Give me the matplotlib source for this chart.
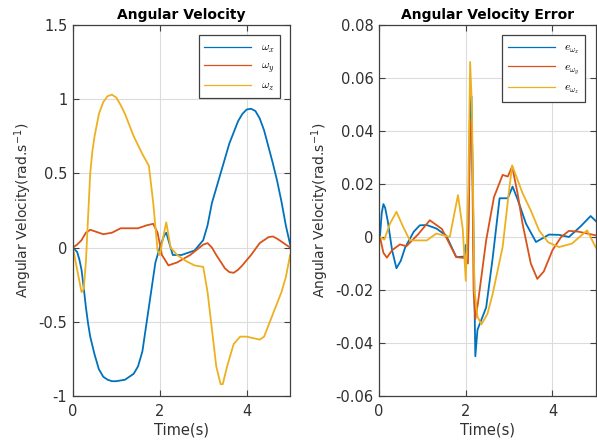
import numpy as np
import matplotlib.pyplot as plt

plt.rcParams['font.family'] = ['DejaVu Sans']
plt.rcParams['mathtext.fontset'] = 'cm'

c_x = '#0072BD'
c_y = '#D95319'
c_z = '#EDB120'

# angular velocity (left)
t_wx = [0, 0.1, 0.15, 0.2, 0.25, 0.3, 0.35, 0.4, 0.5, 0.6, 0.7, 0.8, 0.9, 1.0, 1.2, 1.4,
        1.5, 1.6, 1.7, 1.8, 1.9, 2.0, 2.1, 2.15, 2.2, 2.3, 2.5, 2.8, 3.0, 3.1, 3.2, 3.4,
        3.6, 3.8, 3.9, 4.0, 4.1, 4.2, 4.3, 4.4, 4.5, 4.6, 4.7, 4.8, 4.9, 5.0]
wx = [0, -0.03, -0.08, -0.15, -0.27, -0.4, -0.51, -0.6, -0.72, -0.82, -0.87, -0.89, -0.9,
      -0.9, -0.89, -0.85, -0.8, -0.7, -0.5, -0.3, -0.1, 0.0, 0.08, 0.1, 0.05, -0.05,
      -0.05, -0.02, 0.05, 0.15, 0.3, 0.5, 0.7, 0.85, 0.9, 0.93, 0.935, 0.92, 0.87, 0.79,
      0.68, 0.57, 0.45, 0.31, 0.15, 0.02]

t_wy = [0, 0.1, 0.2, 0.3, 0.4, 0.5, 0.7, 0.9, 1.1, 1.3, 1.5, 1.7, 1.85, 1.95, 2.05, 2.2,
        2.4, 2.7, 3.0, 3.1, 3.2, 3.3, 3.5, 3.6, 3.7, 3.8, 3.9, 4.1, 4.3, 4.5, 4.6, 4.7,
        4.9, 5.0]
wy = [0, 0.02, 0.05, 0.1, 0.12, 0.11, 0.09, 0.1, 0.13, 0.13, 0.13, 0.15, 0.16, 0.1,
      -0.05, -0.12, -0.1, -0.05, 0.02, 0.03, 0.0, -0.05, -0.14, -0.165, -0.17, -0.15,
      -0.12, -0.05, 0.03, 0.07, 0.075, 0.06, 0.02, 0.0]

t_wz = [0, 0.1, 0.2, 0.25, 0.3, 0.35, 0.4, 0.45, 0.5, 0.6, 0.7, 0.8, 0.9, 1.0, 1.1, 1.2,
        1.4, 1.6, 1.75, 1.85, 1.95, 2.0, 2.1, 2.15, 2.25, 2.4, 2.6, 2.8, 3.0, 3.1, 3.2,
        3.3, 3.4, 3.45, 3.55, 3.7, 3.85, 4.0, 4.15, 4.3, 4.4, 4.6, 4.8, 4.9, 5.0]
wz = [0, -0.15, -0.3, -0.28, -0.1, 0.2, 0.5, 0.65, 0.75, 0.9, 0.98, 1.02, 1.03, 1.01,
      0.96, 0.9, 0.75, 0.63, 0.55, 0.3, -0.02, -0.05, 0.1, 0.17, 0.0, -0.05, -0.09,
      -0.12, -0.13, -0.3, -0.55, -0.8, -0.92, -0.92, -0.8, -0.65, -0.6, -0.6, -0.61,
      -0.62, -0.6, -0.45, -0.3, -0.2, -0.05]

# angular velocity error (right)
t_ex = [0, 0.02, 0.06, 0.1, 0.14, 0.2, 0.3, 0.4, 0.5, 0.6, 0.8, 0.94, 1.1, 1.32, 1.55,
        1.78, 1.97, 2.0, 2.05, 2.1, 2.13, 2.18, 2.22, 2.27, 2.47, 2.62, 2.78, 2.97, 3.08,
        3.2, 3.39, 3.62, 3.92, 4.15, 4.38, 4.65, 4.88, 5.0]
ex = [0, 0.0, 0.009, 0.0124, 0.011, 0.006, -0.005, -0.0118, -0.009, -0.004, 0.002,
      0.0044, 0.0045, 0.0032, 0.0005, -0.0076, -0.0074, -0.003, -0.005, 0.05, 0.053,
      0.0, -0.045, -0.035, -0.0266, -0.008, 0.0146, 0.0146, 0.019, 0.014, 0.005,
      -0.0019, 0.0009, 0.0008, 0.0, 0.004, 0.0079, 0.006]

t_ey = [0, 0.02, 0.1, 0.18, 0.3, 0.48, 0.63, 0.9, 1.17, 1.45, 1.78, 2.0, 2.05, 2.1, 2.14,
        2.18, 2.22, 2.28, 2.47, 2.65, 2.85, 2.97, 3.07, 3.2, 3.31, 3.5, 3.65, 3.8, 4.0,
        4.2, 4.38, 4.6, 5.0]
ey = [0, 0.0, -0.006, -0.0078, -0.005, -0.0028, -0.0035, 0.001, 0.0063, 0.003, -0.0076,
      -0.008, -0.01, 0.04, 0.045, -0.02, -0.031, -0.025, -0.0013, 0.015, 0.0234, 0.0228,
      0.0266, 0.016, 0.005, -0.01, -0.0158, -0.013, -0.005, 0.0, 0.0023, 0.002, 0.0006]

t_ez = [0, 0.02, 0.12, 0.25, 0.4, 0.55, 0.71, 1.1, 1.32, 1.63, 1.82, 1.93, 2.0, 2.06,
        2.1, 2.14, 2.2, 2.27, 2.36, 2.5, 2.62, 2.85, 3.0, 3.07, 3.31, 3.5, 3.69, 3.9,
        4.15, 4.45, 4.8, 5.0]
ez = [0, 0.0, -0.001, 0.005, 0.0095, 0.004, -0.0013, -0.0013, 0.0013, 0.0, 0.0158,
      0.003, -0.0165, 0.02, 0.066, 0.05, -0.02, -0.03, -0.033, -0.029, -0.0215, -0.0038,
      0.0177, 0.027, 0.0165, 0.01, 0.0025, -0.002, -0.0038, -0.0025, 0.0025, -0.004]

fig = plt.figure(figsize=(5.97, 4.44), dpi=100)
ax1 = fig.add_axes([0.122, 0.108, 0.364, 0.836])
ax2 = fig.add_axes([0.635, 0.108, 0.363, 0.836])

ax1.plot(t_wx, wx, color=c_x, lw=1.3, label=r'$\omega_x$')
ax1.plot(t_wy, wy, color=c_y, lw=1.3, label=r'$\omega_y$')
ax1.plot(t_wz, wz, color=c_z, lw=1.3, label=r'$\omega_z$')
ax1.set_ylim(-1, 1.5)
ax1.set_yticks([-1, -0.5, 0, 0.5, 1, 1.5])
ax1.set_yticklabels(['-1', '-0.5', '0', '0.5', '1', '1.5'])
ax1.set_title('Angular Velocity', fontsize=10, fontweight='bold', pad=4)

ax2.plot(t_ex, ex, color=c_x, lw=1.3, label=r'$e_{\omega_x}$')
ax2.plot(t_ey, ey, color=c_y, lw=1.3, label=r'$e_{\omega_y}$')
ax2.plot(t_ez, ez, color=c_z, lw=1.3, label=r'$e_{\omega_z}$')
ax2.set_ylim(-0.06, 0.08)
ax2.set_yticks([-0.06, -0.04, -0.02, 0, 0.02, 0.04, 0.06, 0.08])
ax2.set_yticklabels(['-0.06', '-0.04', '-0.02', '0', '0.02', '0.04', '0.06', '0.08'])
ax2.set_title('Angular Velocity Error', fontsize=10, fontweight='bold', pad=4)

for ax in (ax1, ax2):
    ax.set_xlim(0, 5)
    ax.set_xticks([0, 2, 4])
    ax.grid(True, color='#dcdcdc', lw=0.8)
    ax.set_axisbelow(True)
    ax.tick_params(direction='in', top=True, right=True, labelsize=10.5, length=4,
                   color='#404040', labelcolor='#303030')
    ax.tick_params(axis='x', pad=6)
    ax.tick_params(axis='y', pad=4)
    for s in ax.spines.values():
        s.set_color('#404040')
        s.set_linewidth(0.9)
    ax.set_xlabel('Time(s)', fontsize=10.5, color='#303030', labelpad=2)
    ax.set_ylabel(r'Angular Velocity(rad.s$^{\mathregular{-1}}$)', fontsize=10,
                  color='#303030', labelpad=3)
    leg = ax.legend(loc='upper right', fontsize=8.5, fancybox=False, framealpha=1,
                    edgecolor='#404040', borderaxespad=0.9, handlelength=4,
                    labelspacing=0.35, borderpad=0.45)
    leg.get_frame().set_linewidth(0.9)
    for h in leg.get_lines():
        h.set_linewidth(0.9)

fig.savefig('out.png', dpi=100)
